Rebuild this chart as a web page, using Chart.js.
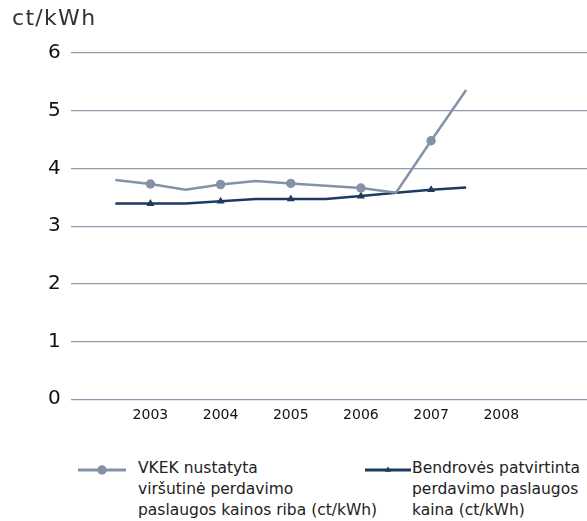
<!DOCTYPE html>
<html>
<head>
<meta charset="utf-8">
<script src="https://cdn.jsdelivr.net/npm/chart.js@4/dist/chart.umd.min.js"></script>
<style>
  html, body { margin: 0; padding: 0; background: #fff; }
  #wrap { position: relative; width: 587px; height: 521px; font-family: "DejaVu Sans", sans-serif; }
  #unit { position: absolute; left: 12px; top: 5px; font-size: 22px; letter-spacing: 1.3px; color: #333; }
  .leg { position: absolute; top: 458px; font-size: 15.5px; line-height: 21px; color: #222; }
  .leg canvas { position: absolute; left: 0; top: 2px; }
  .leg span { position: absolute; white-space: nowrap; }
</style>
</head>
<body>
<div id="wrap">
  <canvas id="myChart" width="587" height="432"></canvas>
  <div id="unit">ct/kWh</div>
  <div class="leg" style="left:78px;"><canvas id="legA" width="48" height="20"></canvas><span style="left:60px;">VKEK nustatyta<br>viršutinė perdavimo<br>paslaugos kainos riba (ct/kWh)</span></div>
  <div class="leg" style="left:365px;"><canvas id="legB" width="46" height="20"></canvas><span style="left:47px;">Bendrovės patvirtinta<br>perdavimo paslaugos<br>kaina (ct/kWh)</span></div>
</div>
<script>
// 時点（半年刻み）
var periods = [2002.5, 2003, 2003.5, 2004, 2004.5, 2005, 2005.5, 2006, 2006.5, 2007, 2007.5];
// 目盛りの年
var yearTicks = [2003, 2004, 2005, 2006, 2007, 2008];
// VKEK 上限価格
var vkekValues = [3.80, 3.73, 3.63, 3.72, 3.78, 3.74, 3.70, 3.66, 3.58, 4.48, 5.36];
// 会社承認価格
var companyValues = [3.39, 3.39, 3.39, 3.43, 3.47, 3.47, 3.47, 3.52, 3.58, 3.63, 3.67];

var grayColor = '#8392a8';
var darkColor = '#1d3a60';

function toPoints(values) {
    var pts = [];
    for (var i = 0; i < periods.length; i++) {
        pts.push({ x: periods[i], y: values[i] });
    }
    return pts;
}

// 整数年だけマーカーを出す
function markerRadius(r) {
    return function(ctx) {
        var p = ctx.raw;
        return p && Number.isInteger(p.x) ? r : 0;
    };
}

var ctx = document.getElementById('myChart').getContext('2d');
var myChart = new Chart(ctx, {
    type: 'line',
    data: {
        datasets: [{
            label: 'VKEK nustatyta viršutinė perdavimo paslaugos kainos riba (ct/kWh)',
            data: toPoints(vkekValues),
            borderColor: grayColor,
            backgroundColor: grayColor,
            borderWidth: 2.5,
            pointStyle: 'circle',
            pointBorderWidth: 0,
            pointRadius: markerRadius(4.7),
            pointHoverRadius: markerRadius(4.7),
            tension: 0
        }, {
            label: 'Bendrovės patvirtinta perdavimo paslaugos kaina (ct/kWh)',
            data: toPoints(companyValues),
            borderColor: darkColor,
            backgroundColor: darkColor,
            borderWidth: 2.5,
            pointStyle: 'triangle',
            pointBorderWidth: 0,
            pointRadius: markerRadius(4.6),
            pointHoverRadius: markerRadius(4.6),
            tension: 0
        }]
    },
    options: {
        responsive: false,
        animation: false,
        layout: { padding: { top: 53, left: 38, right: 0, bottom: 0 } },
        plugins: {
            legend: { display: false },
            tooltip: { enabled: false }
        },
        scales: {
            x: {
                type: 'linear',
                min: 2001.864,
                max: 2009.222,
                afterBuildTicks: function(axis) {
                    axis.ticks = yearTicks.map(function(v) { return { value: v }; });
                },
                ticks: {
                    color: '#111',
                    font: { family: 'DejaVu Sans', size: 14 },
                    padding: 8,
                    maxRotation: 0,
                    callback: function(v) { return String(v); }
                },
                grid: { display: false, drawTicks: false },
                border: { display: false }
            },
            y: {
                min: 0,
                max: 6,
                ticks: {
                    stepSize: 1,
                    color: '#111',
                    font: { family: 'DejaVu Sans', size: 20 },
                    padding: 10
                },
                grid: { color: '#8b9bb0', lineWidth: 1.2, drawTicks: false },
                border: { display: false }
            }
        }
    }
});

// 凡例のサンプル線
function drawLegendSample(id, color, style, r) {
    var c = document.getElementById(id).getContext('2d');
    var w = c.canvas.width;
    c.strokeStyle = color;
    c.lineWidth = 3;
    c.beginPath();
    c.moveTo(0, 10);
    c.lineTo(w, 10);
    c.stroke();
    c.fillStyle = color;
    Chart.helpers.drawPoint(c, { pointStyle: style, radius: r, rotation: 0, borderWidth: 0 }, w / 2, 10);
}
drawLegendSample('legA', grayColor, 'circle', 4.7);
drawLegendSample('legB', darkColor, 'triangle', 3.5);
</script>
</body>
</html>
